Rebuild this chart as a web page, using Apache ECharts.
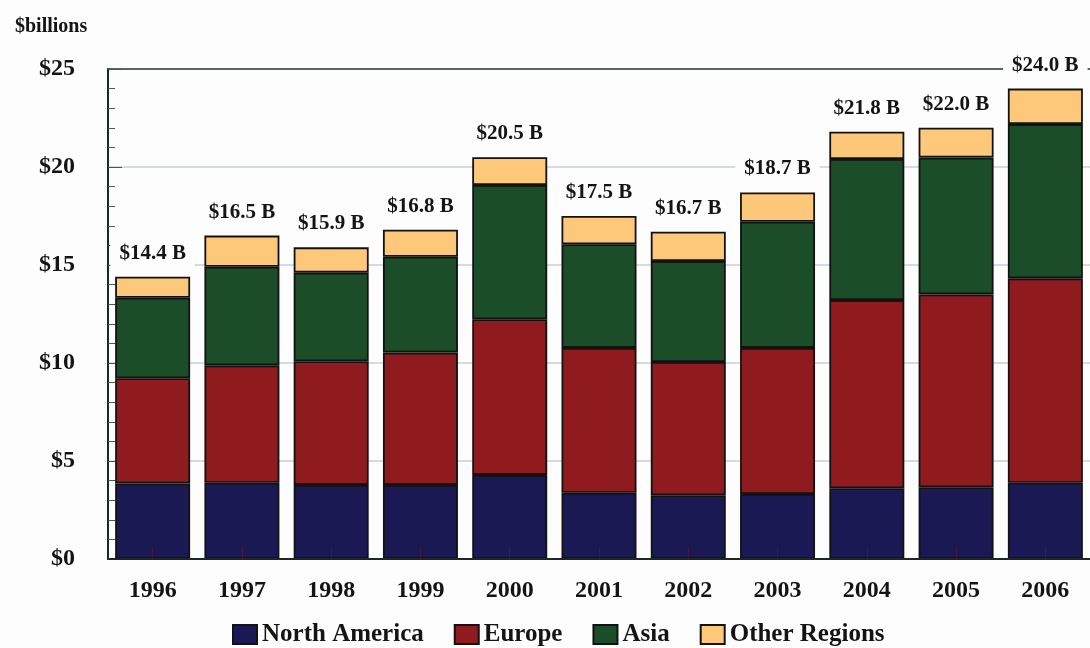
<!DOCTYPE html>
<html>
<head>
<meta charset="utf-8">
<script src="https://cdn.jsdelivr.net/npm/echarts@6/dist/echarts.min.js"></script>
<style>
  html, body { margin: 0; padding: 0; background: #fdfdfd; }
  #chart { width: 1090px; height: 648px; }
</style>
</head>
<body>
<div id="chart"></div>
<script>
// Revenue by region, in billions of dollars
const years = ['1996', '1997', '1998', '1999', '2000', '2001', '2002', '2003', '2004', '2005', '2006'];
const northAmerica = [3.85, 3.89, 3.78, 3.78, 4.29, 3.38, 3.25, 3.32, 3.61, 3.66, 3.89];
const europe       = [5.37, 5.99, 6.31, 6.75, 7.94, 7.39, 6.80, 7.45, 9.60, 9.84, 10.43];
const asia         = [4.11, 5.03, 4.52, 4.89, 6.85, 5.29, 5.15, 6.44, 7.20, 6.98, 7.87];
const otherRegions = [1.07, 1.59, 1.29, 1.38, 1.42, 1.44, 1.50, 1.49, 1.39, 1.52, 1.81];
const yTicks = [0, 5, 10, 15, 20, 25];

const totals = years.map((_, i) => northAmerica[i] + europe[i] + asia[i] + otherRegions[i]);

const FONT = '"Liberation Serif", "Times New Roman", serif';
const INK = '#141414';
const GRID = '#c6cfd9';

function seg(name, data, color, extra) {
  return Object.assign({
    name: name,
    type: 'bar',
    stack: 'total',
    data: data,
    barCategoryGap: '16%',
    itemStyle: { color: color, borderColor: '#121212', borderWidth: 1.8 }
  }, extra || {});
}

const chart = echarts.init(document.getElementById('chart'));
chart.setOption({
  backgroundColor: '#fdfdfd',
  animation: false,
  title: {
    text: '$billions',
    left: 10, top: 12,
    textStyle: { fontFamily: FONT, fontWeight: 'bold', fontSize: 20, color: INK }
  },
  legend: {
    left: 227, top: 617,
    itemWidth: 24, itemHeight: 19, itemGap: 30,
    icon: 'rect',
    textStyle: { fontFamily: FONT, fontWeight: 'bold', fontSize: 25, color: INK }
  },
  grid: { left: 108, right: -3, top: 69, bottom: 89, containLabel: false },
  xAxis: {
    type: 'category',
    data: years,
    z: 3,
    axisLine: { lineStyle: { color: '#1e2626', width: 2 } },
    axisTick: { show: true, inside: true, alignWithLabel: true, length: 12,
                lineStyle: { color: 'rgba(110,20,40,0.55)', width: 1 } },
    axisLabel: { margin: 20, fontFamily: FONT, fontWeight: 'bold', fontSize: 24, color: INK }
  },
  yAxis: {
    type: 'value',
    min: 0, max: 25, interval: 5,
    axisLine: { show: true, lineStyle: { color: '#1e2626', width: 2 } },
    axisTick: { show: true, inside: true, length: 14, lineStyle: { color: '#4a5656', width: 1 } },
    minorTick: { show: true, splitNumber: 5, length: 7, lineStyle: { color: '#4a5656', width: 1 } },
    splitLine: { show: true, lineStyle: { color: [GRID, GRID, GRID, GRID, GRID, '#263232'], width: 1.5 } },
    axisLabel: {
      margin: 33, fontFamily: FONT, fontWeight: 'bold', fontSize: 24, color: INK,
      padding: [6, 0, 0, 0],
      formatter: v => yTicks.indexOf(v) >= 0 ? '$' + v : ''
    }
  },
  series: [
    seg('North America', northAmerica, '#1b1953'),
    seg('Europe', europe, '#8f1b1e'),
    seg('Asia', asia, '#1b4e28'),
    seg('Other Regions', otherRegions, '#fec87b', {
      label: {
        show: true,
        position: 'top',
        distance: 10,
        formatter: p => '$' + totals[p.dataIndex].toFixed(1) + ' B',
        fontFamily: FONT, fontWeight: 'bold', fontSize: 21, color: INK,
        backgroundColor: '#fdfdfd',
        padding: [3, 9]
      }
    })
  ]
});
</script>
</body>
</html>
